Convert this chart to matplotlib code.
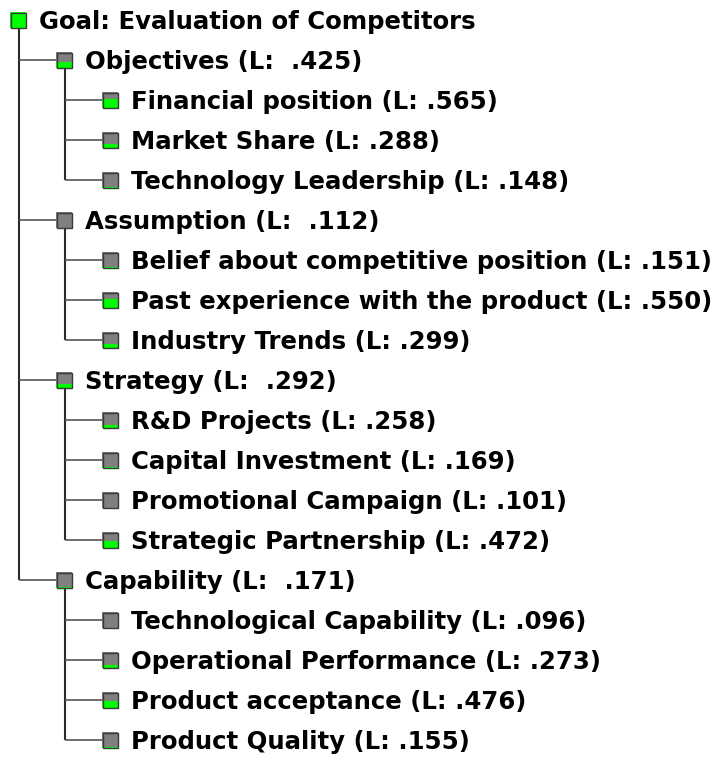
import matplotlib.pyplot as plt
from matplotlib.patches import Rectangle

# tree nodes, top to bottom
labels = [
    "Goal: Evaluation of Competitors",
    "Objectives", "Financial position", "Market Share", "Technology Leadership",
    "Assumption", "Belief about competitive position", "Past experience with the product", "Industry Trends",
    "Strategy", "R&D Projects", "Capital Investment", "Promotional Campaign", "Strategic Partnership",
    "Capability", "Technological Capability", "Operational Performance", "Product acceptance", "Product Quality",
]
levels = [0, 1, 2, 2, 2, 1, 2, 2, 2, 1, 2, 2, 2, 2, 1, 2, 2, 2, 2]
weights = [1.0,
           .425, .565, .288, .148,
           .112, .151, .550, .299,
           .292, .258, .169, .101, .472,
           .171, .096, .273, .476, .155]

W, H = 719, 759
fig = plt.figure(figsize=(W / 100, H / 100), dpi=100)
ax = fig.add_axes([0, 0, 1, 1])
ax.set_xlim(0, W)
ax.set_ylim(H, 0)
ax.axis('off')

row_h = 40
top = 20
indent = 46
x0 = 10
box = 16

ys = [top + i * row_h for i in range(len(labels))]


def box_left(lvl):
    return x0 + lvl * indent


# connector lines
for i, lvl in enumerate(levels):
    last = None
    for j in range(i + 1, len(levels)):
        if levels[j] <= lvl:
            break
        if levels[j] == lvl + 1:
            last = j
    if last is not None:
        cx = box_left(lvl) + box / 2 + 1
        ax.plot([cx, cx], [ys[i] + box / 2, ys[last]], color='#2a2a2a', lw=1.5,
                solid_capstyle='butt', zorder=1)
        for j in range(i + 1, last + 1):
            if levels[j] == lvl + 1:
                ax.plot([cx, box_left(lvl + 1)], [ys[j], ys[j]], color='#555555', lw=1.2,
                        solid_capstyle='butt', zorder=1)

# node boxes and labels
for i, (lab, lvl, w) in enumerate(zip(labels, levels, weights)):
    bx = box_left(lvl)
    by = ys[i] - box / 2
    frac = min(1.0, max(0.0, (w - 0.1) * 1.2))
    ax.add_patch(Rectangle((bx, by), box, box, facecolor='#808080', edgecolor='none', zorder=2))
    ax.add_patch(Rectangle((bx, by + box * (1 - frac)), box, box * frac,
                           facecolor='#00ff00', edgecolor='none', zorder=3))
    ax.add_patch(Rectangle((bx + 0.5, by + 0.5), box - 1, box - 1, facecolor='none',
                           edgecolor='#3a3a3a', lw=1.0, zorder=4))
    if lvl == 0:
        txt = lab
    elif lvl == 1:
        txt = f"{lab} (L:  {w:.3f}".replace("0.", ".") + ")"
    else:
        txt = f"{lab} (L: {w:.3f}".replace("0.", ".") + ")"
    ax.text(bx + 29, ys[i] + box / 2 + 0.5, txt, fontsize=17.6, fontweight='bold',
            family='DejaVu Sans', va='baseline', ha='left', color='black')

fig.savefig('out.png', dpi=100)
